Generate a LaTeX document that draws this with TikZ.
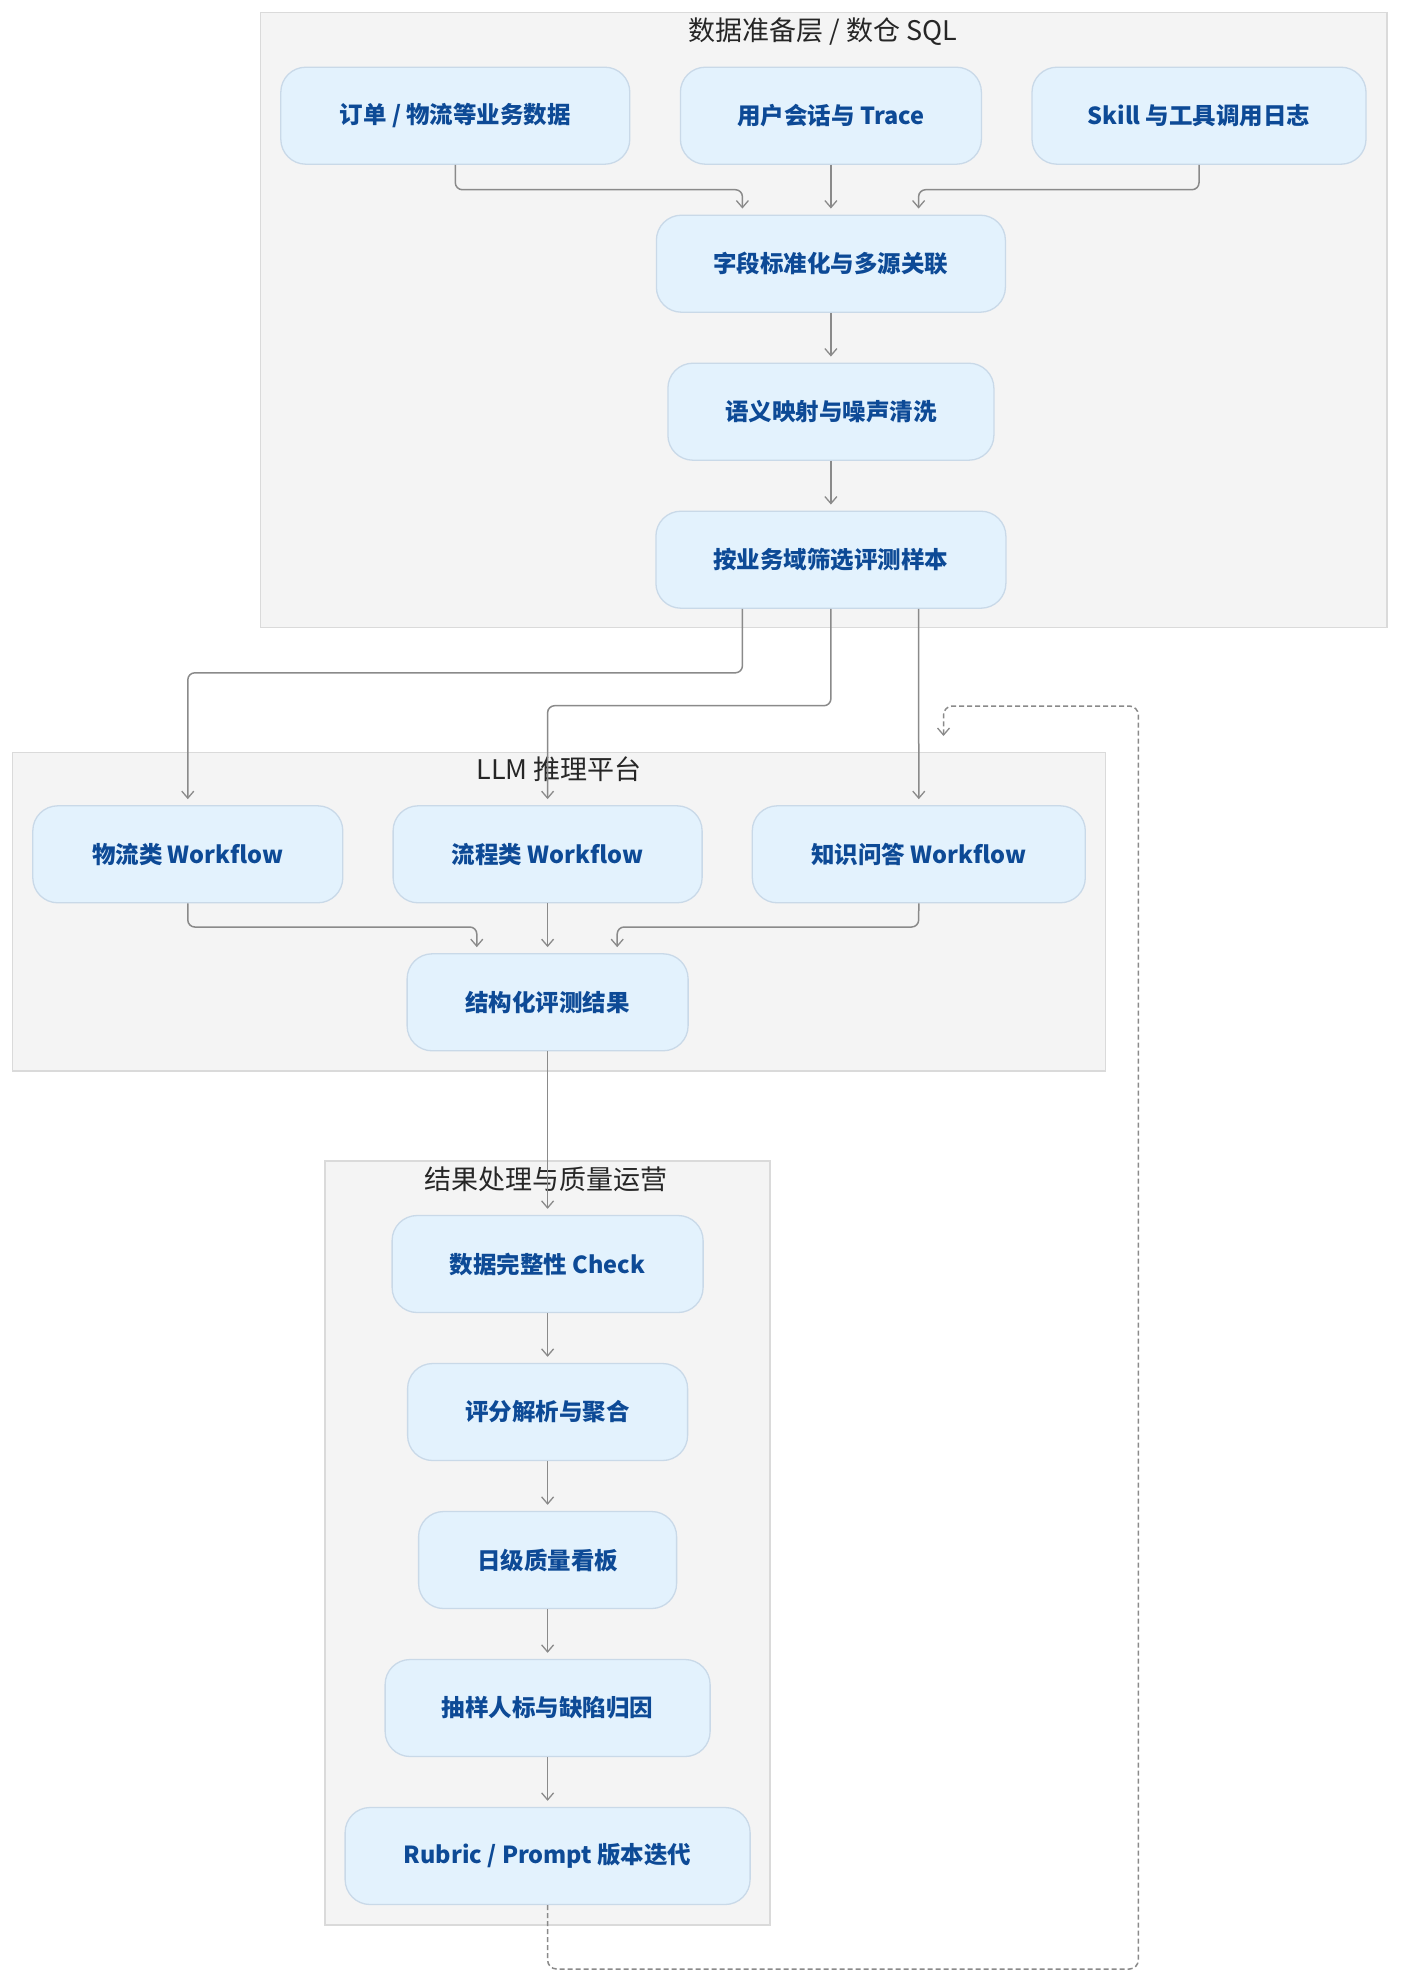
\documentclass[tikz,border=0pt]{standalone}
\usepackage{fontspec}
\setmainfont{Noto Sans CJK SC}
\newfontfamily\cjk{Noto Sans CJK SC}
\usetikzlibrary{arrows.meta,calc}
\definecolor{nodefill}{HTML}{E3F2FD}
\definecolor{nodeline}{HTML}{C9D9E8}
\definecolor{nodetext}{HTML}{0D4A96}
\definecolor{clfill}{HTML}{F4F4F4}
\definecolor{clline}{HTML}{DADADA}
\definecolor{edgecol}{HTML}{8A8A8A}
\tikzset{
  box/.style={draw=nodeline, line width=1.3pt, fill=nodefill, rounded corners=25pt,
    minimum height=97pt, inner sep=0pt, text=nodetext,
    font=\cjk\bfseries\fontsize{23.5}{28}\selectfont},
  cluster/.style={draw=clline, line width=1.5pt, fill=clfill},
  cltitle/.style={text=black!85, font=\cjk\fontsize{27}{32}\selectfont, inner sep=0pt},
  edge/.style={draw=edgecol, line width=1.5pt, rounded corners=7pt,
    -{Straight Barb[length=7pt,width=12pt,line width=1.3pt]}, shorten >=6pt},
  loopedge/.style={draw=edgecol, line width=1.5pt, rounded corners=9pt, dash pattern=on 5pt off 3pt,
    -{Straight Barb[length=7pt,width=12pt,line width=1.3pt]}}
}
\begin{document}
\begin{tikzpicture}[x=1pt,y=-1pt]
\useasboundingbox[fill=white] (0,0) rectangle (1400,1983);
% clusters
\draw[cluster] (260.5,12.6) rectangle (1387,627.3);
\node[cltitle] (t1) at (822.7,32) {数据准备层 / 数仓 SQL};
\draw[cluster] (12.6,752.5) rectangle (1105.3,1071.2);
\node[cltitle] (t2) at (559,769.5) {LLM 推理平台};
\draw[cluster] (325,1161) rectangle (770.2,1924.9);
\node[cltitle] (t3) at (546,1179.5) {结果处理与质量运营};
% nodes
\node[box, minimum width=349pt] (o1) at (455.3,115.7) {订单 / 物流等业务数据};
\node[box, minimum width=301pt] (o2) at (830.9,115.7) {用户会话与 Trace};
\node[box, minimum width=334pt] (o3) at (1199,115.7) {Skill 与工具调用日志};
\node[box, minimum width=349pt] (n1) at (830.9,263.7) {字段标准化与多源关联};
\node[box, minimum width=326pt] (n2) at (830.9,411.7) {语义映射与噪声清洗};
\node[box, minimum width=350pt] (n3) at (830.9,559.7) {按业务域筛选评测样本};
\node[box, minimum width=310pt] (w1) at (187.8,854.3) {物流类 Workflow};
\node[box, minimum width=309pt] (w2) at (547.6,854.3) {流程类 Workflow};
\node[box, minimum width=333pt] (w3) at (918.8,854.3) {知识问答 Workflow};
\node[box, minimum width=281pt] (r) at (547.6,1002.3) {结构化评测结果};
\node[box, minimum width=311pt] (c1) at (547.6,1264) {数据完整性 Check};
\node[box, minimum width=280pt] (c2) at (547.6,1412) {评分解析与聚合};
\node[box, minimum width=258pt] (c3) at (547.6,1560) {日级质量看板};
\node[box, minimum width=325pt] (c4) at (547.6,1708) {抽样人标与缺陷归因};
\node[box, minimum width=405pt] (c5) at (547.6,1856) {Rubric / Prompt 版本迭代};
\coordinate (loopend) at (943.5,736);
% edges
\draw[edge] (o1.south) -- (455.3,189.7) -- (742.4,189.7) -- ([xshift=-88.5pt]n1.north);
\draw[edge] (o2.south) -- (n1.north);
\draw[edge] (o3.south) -- (1199,189.7) -- (918.6,189.7) -- ([xshift=87.7pt]n1.north);
\draw[edge] (n1.south) -- (n2.north);
\draw[edge] (n2.south) -- (n3.north);
\draw[edge] ([xshift=-88.5pt]n3.south) -- (742.4,672.8) -- (187.8,672.8) -- (w1.north);
\draw[edge] (n3.south) -- (830.9,705.7) -- (547.6,705.7) -- (w2.north);
\draw[edge] ([xshift=87.7pt]n3.south) -- (w3.north);
\draw[edge] (w1.south) -- (187.8,927) -- (476.8,927) -- ([xshift=-70.8pt]r.north);
\draw[edge] (w2.south) -- (r.north);
\draw[edge] (w3.south) -- (918.6,927) -- (617.2,927) -- ([xshift=69.6pt]r.north);
\draw[edge] (r.south) -- (c1.north);
\draw[edge] (c1.south) -- (c2.north);
\draw[edge] (c2.south) -- (c3.north);
\draw[edge] (c3.south) -- (c4.north);
\draw[edge] (c4.south) -- (c5.north);
\draw[loopedge] (c5.south) -- (547.6,1969) -- (1138.3,1969) -- (1138.3,706) -- (943.5,706) -- (loopend);
\end{tikzpicture}
\end{document}
